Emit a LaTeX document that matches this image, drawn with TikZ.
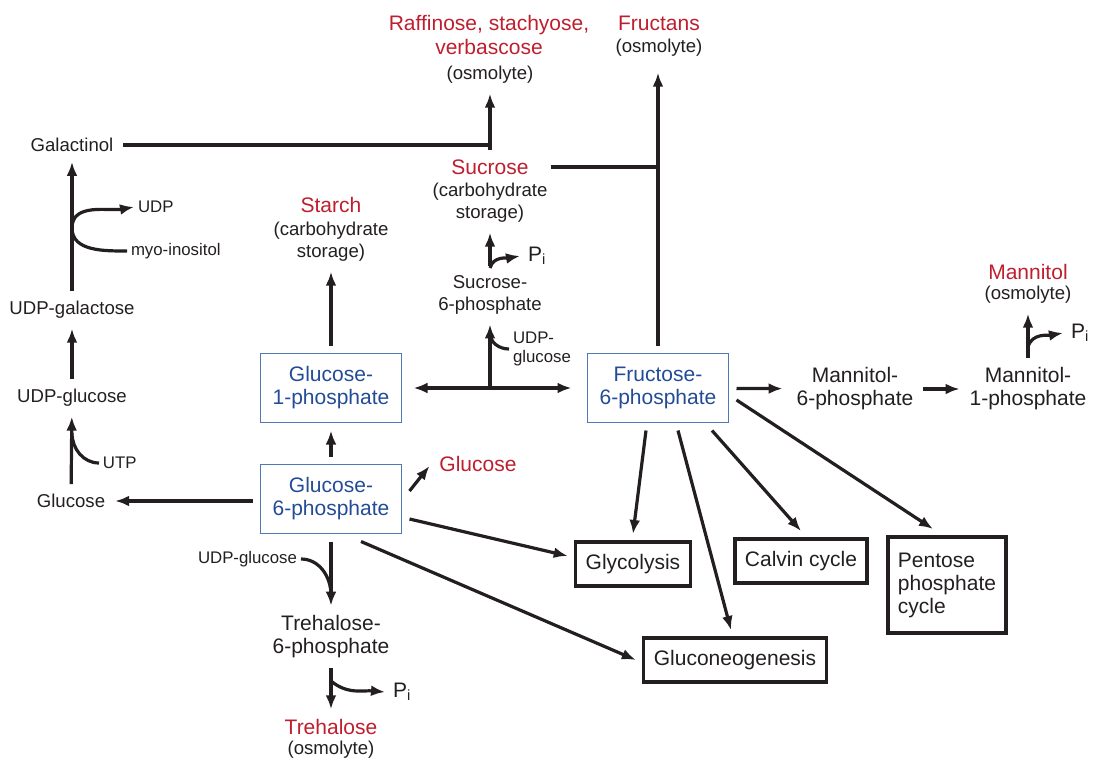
\documentclass[tikz,border=0pt]{standalone}
\usepackage{fontspec}
\setmainfont{Liberation Sans}
\usepackage{tikz}
\usetikzlibrary{arrows.meta, positioning}
\usepackage{xcolor}

\definecolor{prodred}{RGB}{190,30,45}
\definecolor{metblue}{RGB}{35,75,150}
\definecolor{boxblue}{RGB}{80,120,180}
\definecolor{inkblack}{RGB}{35,31,32}

\newcommand{\bigsz}{\fontsize{10.5}{11.5}\selectfont}
\newcommand{\midsz}{\fontsize{9.3}{11}\selectfont}
\newcommand{\smsz}{\fontsize{8.4}{9.5}\selectfont}

\tikzset{
    arr/.style={line width=1.6pt, -{Latex[length=7pt,width=5.4pt]}},
    arrboth/.style={line width=1.6pt, {Latex[length=7pt,width=5.4pt]}-{Latex[length=7pt,width=5.4pt]}},
    link/.style={line width=1.6pt},
    metbox/.style={draw=boxblue, line width=0.8pt, text=metblue, font=\bigsz, align=center,
        minimum width=70.5pt, minimum height=34.5pt, outer sep=4pt},
    procbox/.style={draw=inkblack, line width=1.6pt, font=\bigsz, minimum height=22pt,
        inner xsep=5pt, outer sep=4pt},
    mol/.style={font=\bigsz, align=center, inner sep=1pt, outer sep=4pt},
    molsm/.style={font=\midsz, align=center, inner sep=1pt, outer sep=4pt},
    prod/.style={text=prodred, font=\bigsz, align=center, inner sep=1pt, outer sep=4pt},
    cosub/.style={font=\smsz, align=left, inner sep=1pt, outer sep=1pt},
    pinode/.style={font=\bigsz, inner sep=1pt, outer sep=3pt, anchor=west},
}

\begin{document}
\begin{tikzpicture}[x=0.5pt, y=-0.5pt, color=inkblack]
    \useasboundingbox (0,0) rectangle (1100,760);

    % Sugar phosphates
    \node[metbox] (g1p) at (331,388) {Glucose-\\1-phosphate};
    \node[metbox] (g6p) at (331,499) {Glucose-\\6-phosphate};
    \node[metbox] (f6p) at (658,388) {Fructose-\\6-phosphate};

    % Pathways
    \node[procbox] (glyco) at (633,564) {Glycolysis};
    \node[procbox] (calvin) at (801,561) {Calvin cycle};
    \node[procbox] (gluco) at (735,660) {Gluconeogenesis};
    \node[procbox, align=left, minimum height=48pt, minimum width=59pt] (pentose) at (947,585)
        {Pentose\\phosphate\\cycle};

    % End products
    \node[prod, font=\fontsize{10.5}{12}\selectfont] (raff) at (489,35) {Raffinose, stachyose,\\verbascose};
    \node[molsm] (raffnote) at (490,75) {(osmolyte)};
    \node[prod] (fruc) at (659,23) {Fructans};
    \node[molsm] (frucnote) at (659,48) {(osmolyte)};
    \node[prod] (suc) at (490,167) {Sucrose};
    \node[molsm] (sucnote) at (490,203) {(carbohydrate\\storage)};
    \node[prod] (starch) at (331,205) {Starch};
    \node[molsm] (starchnote) at (331,242) {(carbohydrate\\storage)};
    \node[prod] (mann) at (1028,272) {Mannitol};
    \node[molsm] (mannnote) at (1028,295) {(osmolyte)};
    \node[prod] (glcR) at (478,464) {Glucose};
    \node[prod] (treh) at (331,727) {Trehalose};
    \node[molsm] (trehnote) at (331,750) {(osmolyte)};

    % Intermediates
    \node[molsm] (galact) at (72,145) {Galactinol};
    \node[molsm] (udpgal) at (72,310) {UDP-galactose};
    \node[molsm] (udpglc) at (72,398) {UDP-glucose};
    \node[molsm] (glcL) at (71,501) {Glucose};
    \node[molsm] (s6p) at (490,295) {Sucrose-\\6-phosphate};
    \node[mol] (m6p) at (855,389) {Mannitol-\\6-phosphate};
    \node[mol] (m1p) at (1028,389) {Mannitol-\\1-phosphate};
    \node[mol] (t6p) at (331,637) {Trehalose-\\6-phosphate};

    % Co-substrates and P_i
    \node[cosub, anchor=west] (udp) at (134,207) {UDP};
    \node[cosub, anchor=west] (myo) at (127,251) {myo-inositol};
    \node[cosub, anchor=west] (utp) at (99,463) {UTP};
    \node[cosub, anchor=west] (udpgS) at (509,349) {UDP-\\glucose};
    \node[cosub, anchor=east] (udpgT) at (301,559) {UDP-glucose};
    \node[pinode] (piS) at (520,256) {P\textsubscript{i}};
    \node[pinode] (piM) at (1063,333) {P\textsubscript{i}};
    \node[pinode] (piT) at (385,692) {P\textsubscript{i}};

    % Junction points
    \coordinate (galjoin) at (72,228);
    \coordinate (utpjoin) at (72,433);
    \coordinate (raffjoin) at (490,150);
    \coordinate (hjoin) at (490,389);
    \coordinate (udpjoin) at (490,333);
    \coordinate (sjoin) at (490,268);
    \coordinate (mjoin) at (1028,347);
    \coordinate (tjoin) at (331,595);
    \coordinate (trjoin) at (331,681);

    % Left branch: galactinol
    \draw[arr] (g6p.west |- glcL.east) -- (glcL.east);
    \draw[arr] (glcL) -- (udpglc);
    \draw[link] (utp.west) to[out=180,in=-90] (utpjoin);
    \draw[arr] (udpglc) -- (udpgal);
    \draw[arr] (udpgal) -- (galact);
    \draw[arr] (myo.west) to[out=180,in=-90] (galjoin) to[out=90,in=190] (udp.west);

    % Raffinose family
    \draw[link] (galact.east) -- (galact.east -| raffjoin);
    \draw[arr] (raffjoin) -- (raffnote.south -| raffjoin);

    % Starch and sucrose
    \draw[arr] (g6p) -- (g1p);
    \draw[arr] (g1p) -- (starchnote);
    \draw[arrboth, shorten <=2pt, shorten >=4pt] (g1p) -- (f6p);
    \draw[arr] (hjoin) -- (s6p);
    \draw[link] (udpgS.west) to[out=180,in=-90] (udpjoin);
    \draw[arr] (s6p) -- (sucnote);
    \draw[arr] (sjoin) to[out=75,in=190] (piS.west);
    \draw[link] ([xshift=6pt]suc.east) -- (suc.east -| f6p.north);
    \draw[arr, shorten >=3pt] (f6p.north) -- (f6p.north |- frucnote.south);

    % Mannitol
    \draw[arr, shorten >=2pt] (f6p) -- (m6p);
    \draw[arr] (m6p) -- (m1p);
    \draw[arr] (m1p) -- (mannnote);
    \draw[arr] (mjoin) to[out=75,in=190] (piM.west);

    % Glucose and trehalose
    \draw[arr] ([yshift=4pt]g6p.east) -- ([yshift=-1pt]glcR.west);
    \draw[arr] (g6p) -- (t6p);
    \draw[link] (udpgT.east) to[out=0,in=90] (tjoin);
    \draw[arr] (t6p) -- (treh);
    \draw[arr] (trjoin) to[out=-40,in=175] (piT.west);

    % Into the pathways
    \draw[arr] ([yshift=-10pt]g6p.east) -- ([yshift=4pt]glyco.west);
    \draw[arr] ([xshift=15pt]g6p.south) -- (gluco.west);
    \draw[arr] ([xshift=-6pt]f6p.south) -- (glyco.north);
    \draw[arr] ([xshift=10pt]f6p.south) -- ([xshift=-2pt]gluco.north);
    \draw[arr] ([xshift=27pt]f6p.south) -- (calvin.north);
    \draw[arr] ([yshift=-6pt]f6p.east) -- ([xshift=-7pt]pentose.north);
\end{tikzpicture}
\end{document}
